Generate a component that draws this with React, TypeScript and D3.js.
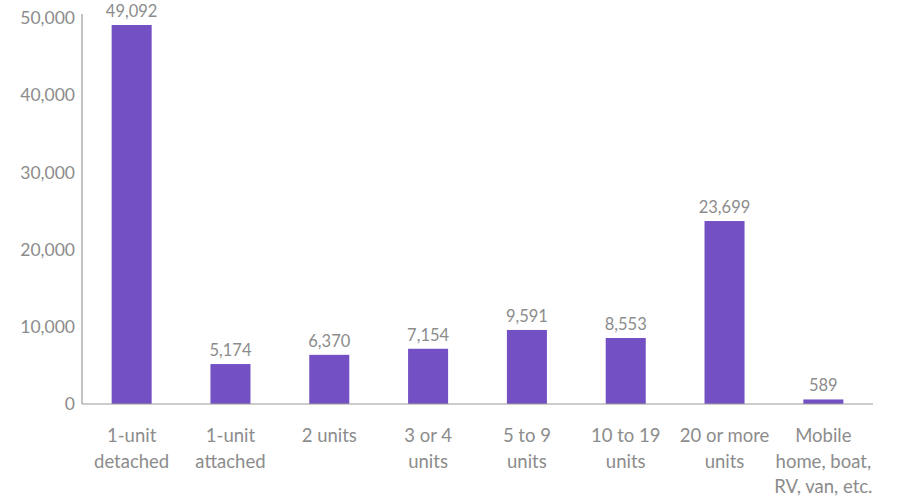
import React from "react";
import * as d3 from "d3";

const categories: string[][] = [
  ["1-unit", "detached"],
  ["1-unit", "attached"],
  ["2 units"],
  ["3 or 4", "units"],
  ["5 to 9", "units"],
  ["10 to 19", "units"],
  ["20 or more", "units"],
  ["Mobile", "home, boat,", "RV, van, etc."],
];
const values: number[] = [49092, 5174, 6370, 7154, 9591, 8553, 23699, 589];
const yTicks: number[] = [0, 10000, 20000, 30000, 40000, 50000];

const W = 898;
const H = 500;
const left = 82;
const right = 873;
const top = 18;
const bottom = 404;

export default function App() {
  const x = d3
    .scaleBand<number>()
    .domain(values.map((_, i) => i))
    .range([left, right])
    .paddingInner(0.595)
    .paddingOuter(0.3);
  const y = d3.scaleLinear().domain([0, 50000]).range([bottom, top]);
  const fmt = d3.format(",");
  const font = "Lato, 'Open Sans', sans-serif";
  const textColor = "#8c8c8c";

  return (
    <svg
      width={W}
      height={H}
      style={{ position: "absolute", left: 0, top: 0, background: "#fff" }}
      fontFamily={font}
    >
      {yTicks.map((t) => (
        <text
          key={t}
          x={75}
          y={y(t)}
          dy="0.35em"
          textAnchor="end"
          fontSize={17.5}
          fill={textColor}
        >
          {fmt(t)}
        </text>
      ))}
      <line x1={left} x2={left} y1={14} y2={bottom} stroke="#999" strokeWidth={1.2} />
      {values.map((v, i) => (
        <g key={i}>
          <rect
            x={x(i)!}
            y={y(v)}
            width={x.bandwidth()}
            height={bottom - y(v)}
            fill="#7350c4"
          />
          <text
            x={x(i)! + x.bandwidth() / 2}
            y={y(v) - 8}
            textAnchor="middle"
            fontSize={16.5}
            fill={textColor}
          >
            {fmt(v)}
          </text>
          {categories[i].map((line, j) => (
            <text
              key={j}
              x={x(i)! + x.bandwidth() / 2}
              y={436 + j * 25.5}
              dy="0.35em"
              textAnchor="middle"
              fontSize={18.5}
              fill={textColor}
            >
              {line}
            </text>
          ))}
        </g>
      ))}
      <line x1={left} x2={right} y1={bottom} y2={bottom} stroke="#999" strokeWidth={1.2} />
    </svg>
  );
}
